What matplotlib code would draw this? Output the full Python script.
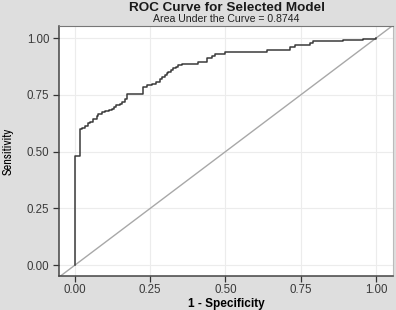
import matplotlib
matplotlib.use("Agg")
import matplotlib.pyplot as plt
from matplotlib import font_manager

plt.rcParams['font.family'] = ['Liberation Sans', 'DejaVu Sans']

title = "ROC Curve for Selected Model"
subtitle = "Area Under the Curve = 0.8744"
xlabel = "1 - Specificity"
ylabel = "Sensitivity"
ticks = [0.0, 0.25, 0.5, 0.75, 1.0]
tick_labels = ["0.00", "0.25", "0.50", "0.75", "1.00"]

fpr = [0.0, 0.0, 0.017, 0.024, 0.035, 0.042, 0.050, 0.060, 0.072, 0.078,
       0.090, 0.100, 0.112, 0.122, 0.130, 0.138, 0.148, 0.155, 0.166, 0.172,
       0.225, 0.238, 0.255, 0.270, 0.282, 0.290, 0.299, 0.305, 0.310, 0.318,
       0.327, 0.335, 0.343, 0.354, 0.409, 0.439, 0.454, 0.465, 0.498, 0.581,
       0.638, 0.714, 0.731, 0.781, 0.791, 0.890, 0.957, 1.0]
tpr = [0.0, 0.48, 0.598, 0.605, 0.615, 0.624, 0.631, 0.645, 0.656, 0.668,
       0.675, 0.680, 0.685, 0.690, 0.698, 0.705, 0.712, 0.719, 0.730, 0.753,
       0.785, 0.793, 0.800, 0.805, 0.822, 0.830, 0.837, 0.845, 0.852, 0.860,
       0.867, 0.875, 0.881, 0.885, 0.894, 0.912, 0.921, 0.930, 0.937, 0.941,
       0.950, 0.962, 0.968, 0.979, 0.987, 0.991, 0.997, 1.0]

fig = plt.figure(figsize=(3.96, 3.10), dpi=100, facecolor='#dedede')
ax = fig.add_axes([0.149, 0.1097, 0.843, 0.806])
ax.set_facecolor('white')

ax.set_xlim(-0.053, 1.056)
ax.set_ylim(-0.048, 1.053)

ax.axline((0, 0), (1, 1), color='#a8a8a8', lw=1.0, zorder=2)
ax.step(fpr, tpr, where='post', color='#3a3a3a', lw=1.1, zorder=3)

ax.set_xticks(ticks)
ax.set_xticklabels(tick_labels)
ax.set_yticks(ticks)
ax.set_yticklabels(tick_labels)
ax.grid(True, color='#ececec', lw=0.8, zorder=0)
ax.set_axisbelow(True)
ax.tick_params(direction='out', length=4, width=0.9, colors='#333333',
               labelsize=8.3, labelcolor='#3a3a3a', pad=3)
ax.tick_params(axis='x', pad=2)

for side in ['left', 'bottom']:
    ax.spines[side].set_color('#444444')
    ax.spines[side].set_linewidth(1.1)
ax.spines['top'].set_color('#777777')
ax.spines['top'].set_linewidth(0.8)
ax.spines['right'].set_color('#bbbbbb')
ax.spines['right'].set_linewidth(0.8)

ax.set_xlabel(xlabel, fontsize=8.5, fontweight='bold', va='center')
ax.xaxis.set_label_coords(0.5, -0.113)

narrow = [f.name for f in font_manager.fontManager.ttflist if 'Narrow' in f.name]
if narrow:
    ax.set_ylabel(ylabel, fontsize=8.8, fontweight='bold', va='center',
                  family=[narrow[0], 'DejaVu Sans'])
else:
    ax.set_ylabel(ylabel, fontsize=8.5, fontweight='bold', va='center',
                  family='DejaVu Sans', fontstretch='condensed')
ax.yaxis.set_label_coords(-0.153, 0.5)

fig.text(0.572, 0.975, title, ha='center', va='center', fontsize=9.7,
         fontweight='bold', color='#1a1a1a')
fig.text(0.572, 0.938, subtitle, ha='center', va='center', fontsize=7.6,
         color='#222222')

fig.savefig('out.png', dpi=100, facecolor=fig.get_facecolor())
